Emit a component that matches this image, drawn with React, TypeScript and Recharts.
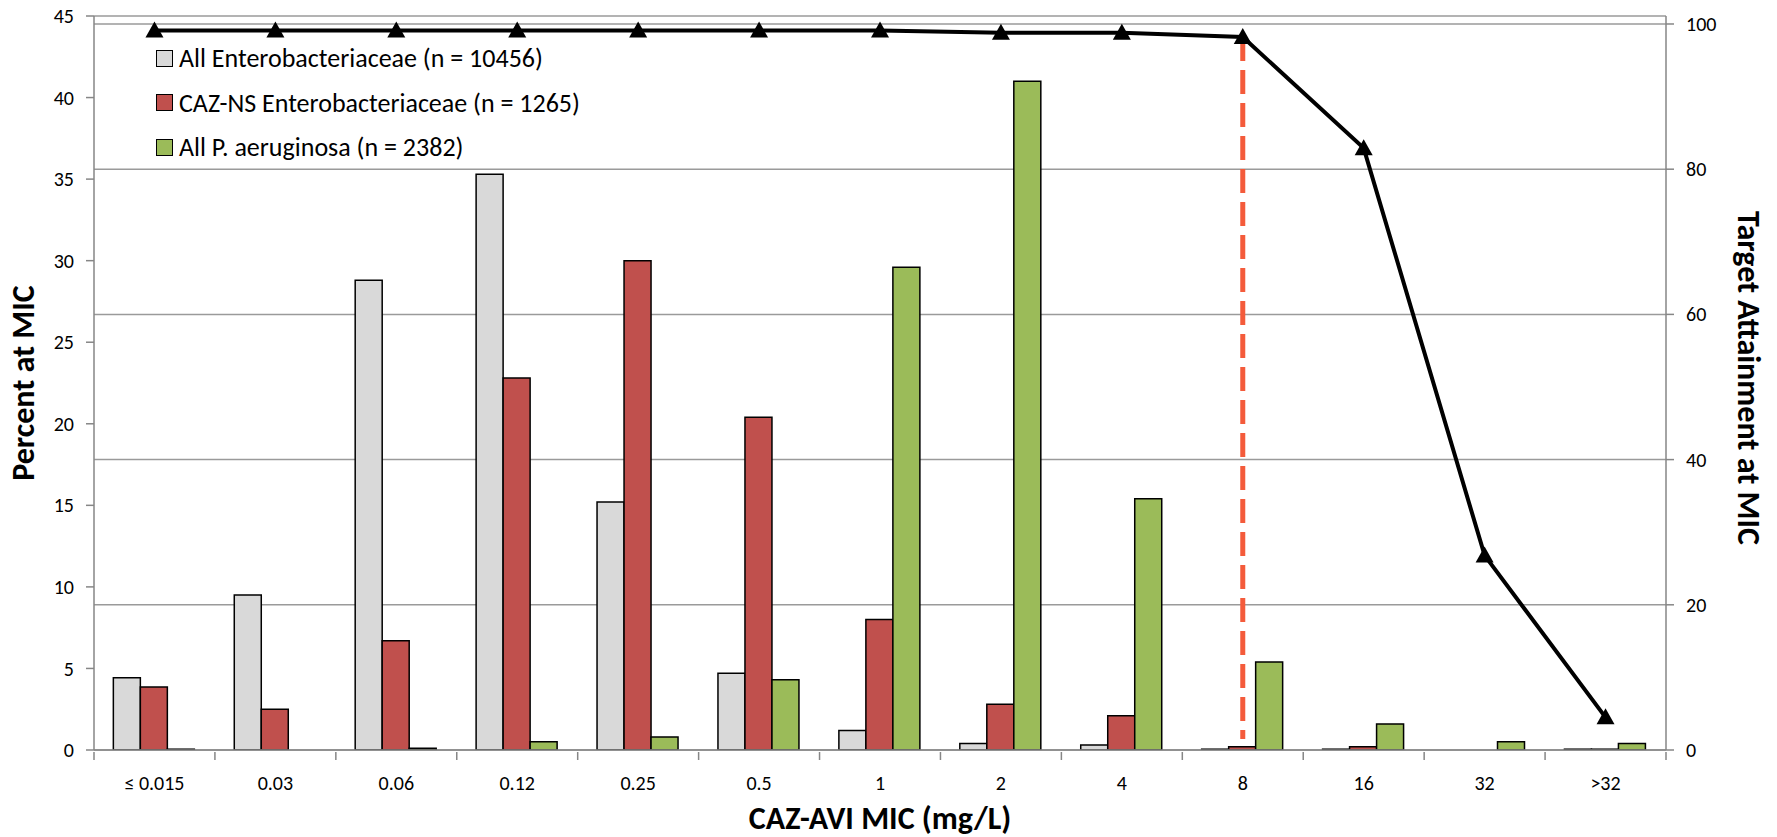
import React from "react";
import {
  ComposedChart, Bar, Line, XAxis, YAxis, CartesianGrid, ReferenceLine,
} from "recharts";

const categories = ["≤ 0.015", "0.03", "0.06", "0.12", "0.25", "0.5", "1", "2", "4", "8", "16", "32", ">32"];
const allEntero = [4.43, 9.5, 28.8, 35.3, 15.2, 4.7, 1.2, 0.4, 0.3, 0.05, 0.05, 0, 0.05];
const cazNs = [3.87, 2.5, 6.7, 22.8, 30.0, 20.4, 8.0, 2.8, 2.1, 0.2, 0.2, 0, 0.05];
const pAeruginosa = [0.05, 0, 0.1, 0.5, 0.8, 4.3, 29.6, 41.0, 15.4, 5.4, 1.6, 0.5, 0.4];
const attainment = [99.1, 99.1, 99.1, 99.1, 99.1, 99.1, 99.1, 98.8, 98.8, 98.2, 82.9, 26.8, 4.5];
const leftTicks = [0, 5, 10, 15, 20, 25, 30, 35, 40, 45];
const rightTicks = [0, 20, 40, 60, 80, 100];
const breakpoint = "8";
const breakpointTop = 98.2;
const breakpointBottom = 1.5;

const seriesNames = [
  "All Enterobacteriaceae (n = 10456)",
  "CAZ-NS Enterobacteriaceae (n = 1265)",
  "All P. aeruginosa (n = 2382)",
];
const colors = ["#D9D9D9", "#C0504D", "#9BBB59"];

const data = categories.map((mic, i) => ({
  mic,
  all: allEntero[i],
  ns: cazNs[i],
  pa: pAeruginosa[i],
  ta: attainment[i],
}));

const W = 1777;
const H = 837;
const LEFT_W = 94;
const RIGHT_W = 111;
const FONT = "Carlito, Lato, 'Open Sans', sans-serif";
const AXIS = "#868686";
const band = (W - LEFT_W - RIGHT_W) / categories.length;

function XTick(props: any) {
  const { x, y, payload, index } = props;
  const last = index === categories.length - 1;
  return (
    <g>
      <line x1={x - band / 2} x2={x - band / 2} y1={y} y2={y + 8} stroke={AXIS} strokeWidth={1.5} />
      {last && <line x1={x + band / 2} x2={x + band / 2} y1={y} y2={y + 8} stroke={AXIS} strokeWidth={1.5} />}
      <text x={x} y={y + 38} textAnchor="middle" fontSize={20} fill="#000" fontFamily={FONT}>
        {payload.value}
      </text>
    </g>
  );
}

function Triangle(props: any) {
  const { cx, cy } = props;
  if (cx == null || cy == null) return null;
  return <polygon points={`${cx},${cy - 9} ${cx - 9},${cy + 7} ${cx + 9},${cy + 7}`} fill="#000" />;
}

function LegendBox() {
  return (
    <div style={{ position: "absolute", left: 156, top: 36, fontFamily: FONT, fontSize: 26, color: "#000" }}>
      {seriesNames.map((n, i) => (
        <div key={n} style={{ display: "flex", alignItems: "center", height: 44.5, whiteSpace: "nowrap" }}>
          <span style={{ width: 17, height: 17, background: colors[i], border: "1.5px solid #000", boxSizing: "border-box", marginRight: 6 }} />
          <span>{n}</span>
        </div>
      ))}
    </div>
  );
}

export default function App() {
  return (
    <div style={{ position: "absolute", left: 0, top: 0, width: W, height: H, background: "#fff", fontFamily: FONT }}>
      <ComposedChart
        width={W}
        height={H}
        data={data}
        margin={{ top: 16, right: 0, bottom: 0, left: 0 }}
        barCategoryGap="16%"
        barGap={0}
      >
        <CartesianGrid yAxisId="right" vertical={false} stroke="#9A9A9A" strokeWidth={1.5} />
        <XAxis
          dataKey="mic"
          height={87}
          tickLine={false}
          tickSize={0}
          tick={<XTick />}
          axisLine={{ stroke: AXIS, strokeWidth: 1.5 }}
          interval={0}
        />
        <YAxis
          yAxisId="left"
          width={LEFT_W}
          domain={[0, 45]}
          ticks={leftTicks}
          tickSize={8}
          tickMargin={12}
          tick={{ fontSize: 20, fill: "#000", fontFamily: FONT }}
          tickLine={{ stroke: AXIS, strokeWidth: 1.5 }}
          axisLine={{ stroke: AXIS, strokeWidth: 1.5 }}
          allowDataOverflow
        />
        <YAxis
          yAxisId="right"
          orientation="right"
          width={RIGHT_W}
          domain={[0, 101.1]}
          ticks={rightTicks}
          tickSize={8}
          tickMargin={12}
          tick={{ fontSize: 20, fill: "#000", fontFamily: FONT, textAnchor: "start" }}
          tickLine={{ stroke: AXIS, strokeWidth: 1.5 }}
          axisLine={{ stroke: AXIS, strokeWidth: 1.5 }}
          allowDataOverflow
        />
        <Bar yAxisId="left" dataKey="all" name={seriesNames[0]} fill={colors[0]} stroke="#000" strokeWidth={1.5} isAnimationActive={false} />
        <Bar yAxisId="left" dataKey="ns" name={seriesNames[1]} fill={colors[1]} stroke="#000" strokeWidth={1.5} isAnimationActive={false} />
        <Bar yAxisId="left" dataKey="pa" name={seriesNames[2]} fill={colors[2]} stroke="#000" strokeWidth={1.5} isAnimationActive={false} />
        <Line
          yAxisId="right"
          dataKey="ta"
          stroke="#000"
          strokeWidth={4}
          dot={<Triangle />}
          activeDot={false}
          isAnimationActive={false}
        />
        <ReferenceLine
          yAxisId="right"
          segment={[{ x: breakpoint, y: breakpointTop }, { x: breakpoint, y: breakpointBottom }]}
          stroke="#F45B3B"
          strokeWidth={5}
          strokeDasharray="24 9"
        />
      </ComposedChart>
      <LegendBox />
      <div style={{ position: "absolute", left: 23, top: 383, transform: "translate(-50%, -50%) rotate(-90deg)", whiteSpace: "nowrap", fontWeight: 700, fontSize: 32 }}>
        Percent at MIC
      </div>
      <div style={{ position: "absolute", left: 1748, top: 378, transform: "translate(-50%, -50%) rotate(90deg)", whiteSpace: "nowrap", fontWeight: 700, fontSize: 32 }}>
        Target Attainment at MIC
      </div>
      <div style={{ position: "absolute", left: 880, top: 818, transform: "translate(-50%, -50%)", whiteSpace: "nowrap", fontWeight: 700, fontSize: 32 }}>
        CAZ-AVI MIC (mg/L)
      </div>
    </div>
  );
}
